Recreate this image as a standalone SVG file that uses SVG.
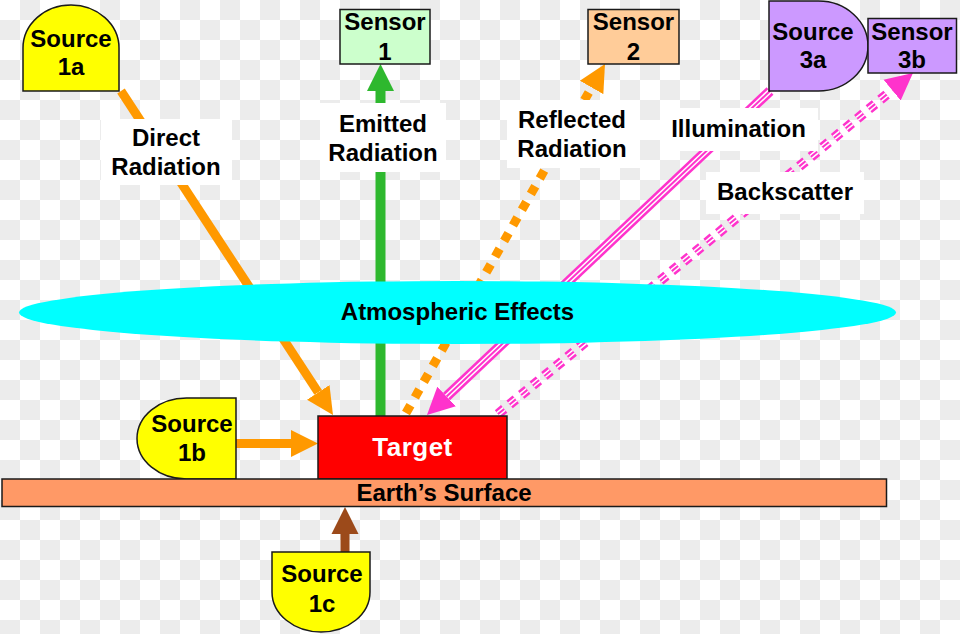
<svg xmlns="http://www.w3.org/2000/svg" width="960" height="634" viewBox="0 0 960 634">
  <defs>
    <pattern id="checker" width="40" height="40" patternUnits="userSpaceOnUse">
      <rect width="40" height="40" fill="#ffffff"/>
      <rect x="20" y="0" width="20" height="20" fill="#ececec"/>
      <rect x="0" y="20" width="20" height="20" fill="#ececec"/>
    </pattern>
    <marker id="mOrange" markerUnits="userSpaceOnUse" viewBox="0 0 28 28" markerWidth="28" markerHeight="28" refX="0" refY="14" orient="auto">
      <path d="M0,0.5 L27,14 L0,27.5 Z" fill="#ff9900"/>
    </marker>
    <marker id="mGreen" markerUnits="userSpaceOnUse" viewBox="0 0 28 28" markerWidth="28" markerHeight="28" refX="0" refY="14" orient="auto">
      <path d="M0,0.5 L27,14 L0,27.5 Z" fill="#2eb82e"/>
    </marker>
    <marker id="mMagenta" markerUnits="userSpaceOnUse" viewBox="0 0 28 28" markerWidth="28" markerHeight="28" refX="0" refY="14" orient="auto">
      <path d="M0,0.5 L27,14 L0,27.5 Z" fill="#ff33cc"/>
    </marker>
    <marker id="mBrown" markerUnits="userSpaceOnUse" viewBox="0 0 28 28" markerWidth="28" markerHeight="28" refX="0" refY="14" orient="auto">
      <path d="M0,0.5 L27,14 L0,27.5 Z" fill="#9c4a1a"/>
    </marker>
  </defs>
  <style>
    .nd { stroke: #1a1a1a; stroke-width: 1.5; }
    .t { font-family: "Liberation Sans", Arial, Helvetica, sans-serif; font-weight: bold; font-size: 24px; text-anchor: middle; fill: #000000; }
    .lbl { fill: #ffffff; }
    .orange { stroke: #ff9900; stroke-width: 9; fill: none; }
    .mag-o { stroke: #ff33cc; stroke-width: 10; fill: none; }
    .mag-w { stroke: #ffffff; stroke-width: 5; fill: none; }
    .mag-i { stroke: #ff33cc; stroke-width: 2; fill: none; }
    .bs { stroke-dasharray: 8 7; }
  </style>

  <rect width="960" height="634" fill="url(#checker)"/>

  <g id="connectors">
    <line class="orange" x1="121" y1="91" x2="318.2" y2="392.4" marker-end="url(#mOrange)"/>
    <line class="orange" x1="236" y1="443.5" x2="291" y2="443.5" marker-end="url(#mOrange)"/>
    <line x1="380.5" y1="416" x2="380.5" y2="91" stroke="#2eb82e" stroke-width="10" marker-end="url(#mGreen)"/>
    <line class="orange" x1="406" y1="413" x2="591.6" y2="87.5" stroke-dasharray="9 9" marker-end="url(#mOrange)"/>
    <line class="mag-o" x1="770" y1="91" x2="446.6" y2="396.5" marker-end="url(#mMagenta)"/>
    <line class="mag-w" x1="770" y1="91" x2="446.6" y2="396.5"/>
    <line class="mag-i" x1="770" y1="91" x2="446.6" y2="396.5"/>
    <line class="mag-o bs" x1="498" y1="414" x2="892.1" y2="90.1" marker-end="url(#mMagenta)"/>
    <line class="mag-w bs" x1="498" y1="414" x2="892.1" y2="90.1"/>
    <line class="mag-i bs" x1="498" y1="414" x2="892.1" y2="90.1"/>
    <line x1="345" y1="552" x2="345" y2="534" stroke="#9c4a1a" stroke-width="9" marker-end="url(#mBrown)"/>

    <g id="label-direct">
      <rect class="lbl" x="101" y="119" width="131" height="66"/>
      <text class="t" x="166" y="146">Direct</text>
      <text class="t" x="166" y="175">Radiation</text>
    </g>
    <g id="label-emitted">
      <rect class="lbl" x="320" y="103" width="126" height="69"/>
      <text class="t" x="383" y="132">Emitted</text>
      <text class="t" x="383" y="161">Radiation</text>
    </g>
    <g id="label-reflected">
      <rect class="lbl" x="507" y="100" width="133" height="68"/>
      <text class="t" x="572" y="128">Reflected</text>
      <text class="t" x="572" y="157">Radiation</text>
    </g>
    <g id="label-illumination">
      <rect class="lbl" x="660" y="108" width="158" height="43"/>
      <text class="t" x="738.5" y="137">Illumination</text>
    </g>
    <g id="label-backscatter">
      <rect class="lbl" x="706" y="172" width="158" height="42"/>
      <text class="t" x="785" y="200">Backscatter</text>
    </g>
  </g>

  <g id="atmosphere">
    <ellipse cx="457.5" cy="312.5" rx="438.5" ry="31.5" fill="#00ffff"/>
    <text class="t" x="457.5" y="320">Atmospheric Effects</text>
  </g>

  <g id="source1a">
    <path class="nd" d="M23,91 V48 A48,43 0 0 1 119,48 V91 Z" fill="#ffff00"/>
    <text class="t" x="71" y="47">Source</text>
    <text class="t" x="71" y="75">1a</text>
  </g>

  <g id="sensor1">
    <rect class="nd" x="340" y="9.5" width="90" height="54.5" fill="#ccffcc"/>
    <text class="t" x="385" y="30">Sensor</text>
    <text class="t" x="385" y="60">1</text>
  </g>

  <g id="sensor2">
    <rect class="nd" x="588" y="9.5" width="91" height="54.5" fill="#ffcc99"/>
    <text class="t" x="633.5" y="30">Sensor</text>
    <text class="t" x="633.5" y="60">2</text>
  </g>

  <g id="source3a">
    <path class="nd" d="M769,1 H818.5 A49.5,45 0 0 1 818.5,91 H769 Z" fill="#cc99ff"/>
    <text class="t" x="813" y="40">Source</text>
    <text class="t" x="813" y="68">3a</text>
  </g>

  <g id="sensor3b">
    <rect class="nd" x="868" y="18.5" width="88.5" height="54.5" fill="#cc99ff"/>
    <text class="t" x="912" y="40">Sensor</text>
    <text class="t" x="912" y="68">3b</text>
  </g>

  <g id="source1b">
    <path class="nd" d="M236,398 V479 H186.5 A49.5,40.5 0 0 1 186.5,398 Z" fill="#ffff00"/>
    <text class="t" x="192" y="432">Source</text>
    <text class="t" x="192" y="461">1b</text>
  </g>

  <g id="target">
    <rect class="nd" x="318" y="416" width="189" height="63" fill="#ff0000"/>
    <text class="t" x="412.5" y="456" style="fill:#ffffff; font-size:26px; letter-spacing:0.5px">Target</text>
  </g>

  <g id="earth">
    <rect class="nd" x="2" y="479" width="884.5" height="27.5" fill="#ff9966"/>
    <text class="t" x="444" y="501">Earth’s Surface</text>
  </g>

  <g id="source1c">
    <path class="nd" d="M272,552 H370 V592 A49,40 0 0 1 272,592 Z" fill="#ffff00"/>
    <text class="t" x="322" y="582">Source</text>
    <text class="t" x="322" y="612">1c</text>
  </g>
</svg>
